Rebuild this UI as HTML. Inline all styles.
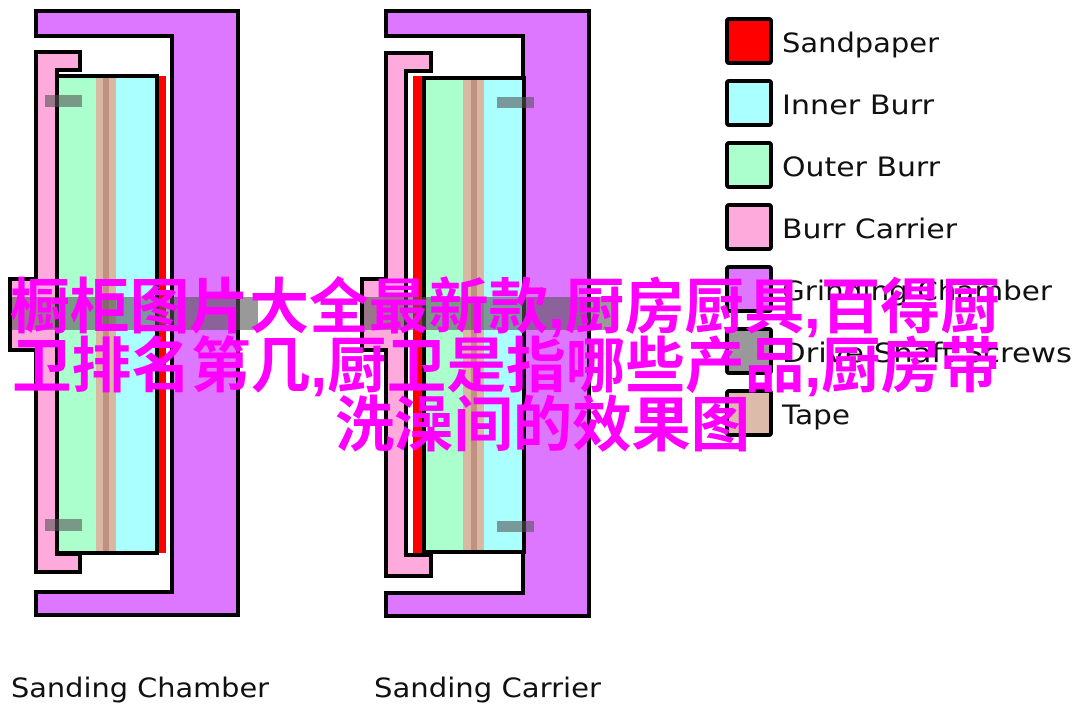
<!DOCTYPE html>
<html><head><meta charset="utf-8"><style>
html,body{margin:0;padding:0;background:#fff;width:1080px;height:713px;overflow:hidden}
</style></head><body>
<svg width="1080" height="713" viewBox="0 0 1080 713" xmlns="http://www.w3.org/2000/svg">
<g stroke="#000" stroke-width="4" stroke-linejoin="miter">
<!-- LEFT: Sanding Chamber -->
<path d="M36 11 H238 V615 H36 V592 H172 V36 H36 Z" fill="#dd77ff"/>
<path d="M36 52 H80 V70 H57 V554 H80 V572 H36 V350 H10 V279 H36 Z" fill="#ffaadd"/>
<rect x="57" y="76" width="100" height="477" fill="#aaffcc"/>
<rect x="96" y="78" width="20" height="473" fill="#d8b8a0" stroke="none"/>
<rect x="103" y="78" width="6" height="473" fill="#c09080" stroke="none"/>
<rect x="116" y="78" width="39" height="473" fill="#aaffff" stroke="none"/>
<rect x="157" y="76" width="9" height="477" fill="#ff0000" stroke="none"/>
<rect x="57" y="76" width="100" height="477" fill="none"/>
<!-- RIGHT: Sanding Carrier -->
<path d="M386 11 H589 V616 H386 V593 H523 V36 H386 Z" fill="#dd77ff"/>
<path d="M386 53 H431 V71 H406 V555 H431 V576 H386 V350 H362 V279 H386 Z" fill="#ffaadd"/>
<rect x="413" y="76" width="9" height="477" fill="#ff0000" stroke="none"/>
<rect x="424" y="78" width="100" height="474" fill="#aaffcc"/>
<rect x="463" y="80" width="21" height="470" fill="#d8b8a0" stroke="none"/>
<rect x="471" y="80" width="6" height="470" fill="#c09080" stroke="none"/>
<rect x="484" y="80" width="38" height="470" fill="#aaffff" stroke="none"/>
<rect x="424" y="78" width="100" height="474" fill="none"/>
</g>
<!-- screws / shafts -->
<g fill="#555" fill-opacity="0.6">
<rect x="45" y="95" width="37" height="12"/>
<rect x="45" y="519" width="37" height="12"/>
<rect x="497" y="97" width="37" height="11"/>
<rect x="497" y="521" width="37" height="11"/>
<rect x="12" y="297" width="246" height="33"/>
<rect x="364" y="297" width="248" height="33"/>
</g>
<!-- Legend -->
<g stroke="#000" stroke-width="4">
<rect x="727" y="19" width="44" height="44" rx="2" fill="#ff0000"/>
<rect x="727" y="81" width="44" height="44" rx="2" fill="#aaffff"/>
<rect x="727" y="143" width="44" height="44" rx="2" fill="#aaffcc"/>
<rect x="727" y="205" width="44" height="44" rx="2" fill="#ffaadd"/>
<rect x="727" y="267" width="44" height="44" rx="2" fill="#dd77ff"/>
<rect x="727" y="329" width="44" height="44" rx="2" fill="#999999"/>
<rect x="727" y="391" width="44" height="44" rx="2" fill="#ddbbaa"/>
</g>
<g font-family="DejaVu Sans, Liberation Sans, sans-serif" font-size="27" fill="#111">
<text x="782" y="52" textLength="157" lengthAdjust="spacingAndGlyphs">Sandpaper</text>
<text x="782" y="114" textLength="152" lengthAdjust="spacingAndGlyphs">Inner Burr</text>
<text x="782" y="176" textLength="158" lengthAdjust="spacingAndGlyphs">Outer Burr</text>
<text x="782" y="238" textLength="175" lengthAdjust="spacingAndGlyphs">Burr Carrier</text>
<text x="782" y="300" textLength="270" lengthAdjust="spacingAndGlyphs">Grinding Chamber</text>
<text x="782" y="362" textLength="290" lengthAdjust="spacingAndGlyphs">Drive Shaft Screws</text>
<text x="782" y="424" textLength="68" lengthAdjust="spacingAndGlyphs">Tape</text>
<text x="11" y="697" textLength="258" lengthAdjust="spacingAndGlyphs">Sanding Chamber</text>
<text x="374" y="697" textLength="227" lengthAdjust="spacingAndGlyphs">Sanding Carrier</text>
</g>
<g font-family="Liberation Sans, Noto Sans CJK SC, sans-serif" font-weight="bold" font-size="60" fill="#ff00ff">
<text x="10" y="328" textLength="990" lengthAdjust="spacingAndGlyphs">橱柜图片大全最新款,厨房厨具,百得厨</text>
<text x="12" y="387" textLength="988" lengthAdjust="spacingAndGlyphs">卫排名第几,厨卫是指哪些产品,厨房带</text>
<text x="335" y="446" textLength="415" lengthAdjust="spacingAndGlyphs">洗澡间的效果图</text>
</g>
</svg>
</body></html>
